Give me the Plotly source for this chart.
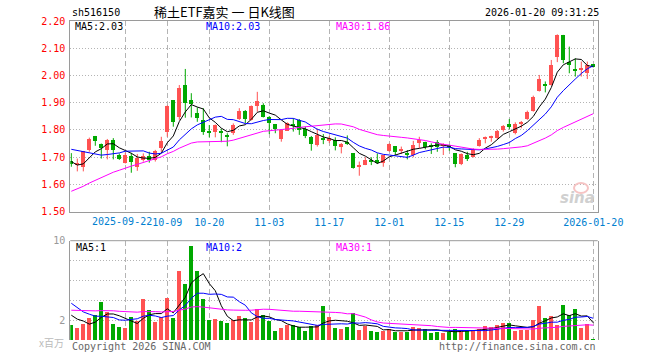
import plotly.graph_objects as go
import pandas as pd

# ---------------- data ----------------
holidays = ['2025-10-01', '2025-10-02', '2025-10-03', '2025-10-06', '2025-10-07',
            '2025-10-08', '2026-01-01', '2026-01-02']
dates = [d.strftime('%Y-%m-%d') for d in pd.bdate_range('2025-09-09', '2026-01-20')
         if d.strftime('%Y-%m-%d') not in holidays]

opens = [1.687, 1.674, 1.663, 1.727, 1.778, 1.747, 1.727, 1.763, 1.708, 1.680,
         1.705, 1.665, 1.690, 1.703, 1.690, 1.735, 1.794, 1.910, 1.849, 1.965,
         1.910, 1.861, 1.837, 1.793, 1.794, 1.791, 1.779, 1.788, 1.840, 1.870,
         1.838, 1.888, 1.892, 1.846, 1.822, 1.768, 1.797, 1.819, 1.837, 1.803,
         1.775, 1.745, 1.767, 1.760, 1.765, 1.737, 1.752, 1.714, 1.667, 1.671,
         1.688, 1.690, 1.678, 1.724, 1.741, 1.723, 1.717, 1.708, 1.751, 1.757,
         1.740, 1.757, 1.744, 1.740, 1.714, 1.675, 1.708, 1.702, 1.743, 1.769,
         1.772, 1.770, 1.800, 1.822, 1.788, 1.824, 1.840, 1.871, 1.943, 1.966,
         1.965, 2.069, 2.149, 2.049, 2.021, 2.020, 2.008, 2.041]
highs = [1.715, 1.695, 1.723, 1.772, 1.778, 1.750, 1.767, 1.770, 1.714, 1.717,
         1.716, 1.712, 1.714, 1.720, 1.727, 1.775, 1.890, 1.910, 1.965, 2.024,
         1.935, 1.883, 1.880, 1.818, 1.820, 1.805, 1.788, 1.824, 1.880, 1.873,
         1.890, 1.940, 1.898, 1.851, 1.822, 1.800, 1.828, 1.843, 1.840, 1.812,
         1.778, 1.805, 1.785, 1.778, 1.773, 1.752, 1.780, 1.714, 1.684, 1.700,
         1.700, 1.714, 1.708, 1.751, 1.741, 1.739, 1.726, 1.760, 1.775, 1.757,
         1.751, 1.763, 1.751, 1.745, 1.714, 1.714, 1.720, 1.733, 1.770, 1.776,
         1.779, 1.800, 1.818, 1.840, 1.828, 1.833, 1.871, 1.926, 2.002, 1.978,
         2.057, 2.151, 2.149, 2.106, 2.063, 2.051, 2.051, 2.042]
lows = [1.665, 1.648, 1.648, 1.720, 1.742, 1.695, 1.692, 1.692, 1.690, 1.677,
        1.643, 1.650, 1.684, 1.680, 1.684, 1.720, 1.775, 1.812, 1.837, 1.845,
        1.846, 1.830, 1.782, 1.773, 1.773, 1.755, 1.740, 1.782, 1.837, 1.825,
        1.835, 1.867, 1.846, 1.785, 1.788, 1.757, 1.797, 1.794, 1.782, 1.770,
        1.724, 1.739, 1.748, 1.752, 1.725, 1.714, 1.745, 1.658, 1.632, 1.671,
        1.671, 1.675, 1.665, 1.720, 1.708, 1.712, 1.692, 1.700, 1.733, 1.729,
        1.712, 1.720, 1.708, 1.724, 1.663, 1.671, 1.686, 1.699, 1.739, 1.751,
        1.757, 1.767, 1.794, 1.804, 1.784, 1.806, 1.837, 1.867, 1.941, 1.938,
        1.963, 2.049, 2.045, 2.008, 1.996, 1.996, 1.987, 2.030]
closes = [1.675, 1.676, 1.722, 1.767, 1.758, 1.733, 1.763, 1.727, 1.692, 1.708,
          1.682, 1.696, 1.706, 1.688, 1.724, 1.760, 1.888, 1.830, 1.953, 1.900,
          1.895, 1.843, 1.794, 1.790, 1.818, 1.789, 1.777, 1.820, 1.870, 1.840,
          1.888, 1.906, 1.849, 1.827, 1.803, 1.800, 1.825, 1.817, 1.800, 1.779,
          1.748, 1.780, 1.765, 1.772, 1.740, 1.750, 1.750, 1.662, 1.669, 1.690,
          1.686, 1.678, 1.708, 1.747, 1.720, 1.725, 1.709, 1.745, 1.763, 1.739,
          1.738, 1.739, 1.746, 1.738, 1.675, 1.712, 1.694, 1.727, 1.763, 1.771,
          1.774, 1.796, 1.815, 1.812, 1.821, 1.826, 1.867, 1.922, 1.987, 1.964,
          2.039, 2.149, 2.057, 2.040, 2.019, 2.029, 2.039, 2.033]
volumes = [1.5, 1.2, 1.6, 2.2, 2.5, 3.9, 2.9, 1.6, 1.3, 1.2,
           2.3, 1.9, 4.2, 3.1, 1.8, 2.3, 4.3, 2.2, 7.0, 5.7,
           9.5, 7.0, 4.2, 2.0, 2.1, 1.95, 1.7, 2.0, 2.4, 2.2,
           1.8, 3.2, 2.5, 1.95, 0.9, 1.2, 1.55, 1.5, 1.3, 0.9,
           1.4, 1.5, 3.5, 2.3, 1.25, 1.1, 1.3, 2.7, 1.0, 1.45,
           0.9, 0.8, 0.95, 1.15, 0.85, 0.85, 0.85, 1.3, 1.2, 1.15,
           0.7, 0.8, 0.7, 0.85, 1.1, 0.85, 0.9, 1.05, 1.1, 1.4,
           1.3, 1.5, 1.7, 1.7, 0.95, 1.0, 1.0, 2.0, 3.5, 2.2,
           2.4, 1.5, 3.6, 2.55, 3.2, 1.2, 1.6, 0.1]

# sessions before the visible window (estimated), only used for moving averages
prior_closes = [1.42, 1.43, 1.41, 1.44, 1.45, 1.44, 1.46, 1.47, 1.46, 1.48,
                1.50, 1.49, 1.51, 1.53, 1.52, 1.55, 1.57, 1.60, 1.61, 1.62,
                1.72, 1.78, 1.80, 1.79, 1.78, 1.74, 1.70, 1.66, 1.645]
prior_volumes = [2.2, 2.5, 2.0, 2.8, 3.1, 2.4, 2.6, 2.9, 2.3, 2.7,
                 3.0, 2.5, 2.2, 2.8, 3.3, 2.6, 2.4, 2.9, 2.7, 3.1,
                 6.0, 5.5, 4.5, 4.5, 4.0, 3.2, 2.55, 3.75, 1.5]

tick_dates = ['2025-09-22', '2025-10-09', '2025-10-20', '2025-11-03', '2025-11-17',
              '2025-12-01', '2025-12-15', '2025-12-29', '2026-01-20']
tick_labels = ['2025-09-22', '10-09', '10-20', '11-03', '11-17',
               '12-01', '12-15', '12-29', '2026-01-20']
price_ticks = [1.50, 1.60, 1.70, 1.80, 1.90, 2.00, 2.10, 2.20]

# ---------------- helpers ----------------
W, H = 660, 360
def px(x):
    return x / W
def py(y):
    return 1 - y / H

n = len(closes)
idx = list(range(n))
tick_idx = [dates.index(d) for d in tick_dates]

def moving_avg(prior, vals, k):
    allv = prior + vals
    p = len(prior)
    return [sum(allv[j - k + 1:j + 1]) / k for j in range(p, p + len(vals))]

ma5 = moving_avg(prior_closes, closes, 5)
ma10 = moving_avg(prior_closes, closes, 10)
ma30 = moving_avg(prior_closes, closes, 30)
vma5 = moving_avg(prior_volumes, volumes, 5)
vma10 = moving_avg(prior_volumes, volumes, 10)
vma30 = moving_avg(prior_volumes, volumes, 30)

RED = '#ff5252'
GREEN = '#00a800'
up = [c >= o for o, c in zip(opens, closes)]
colors = [RED if u else GREEN for u in up]

fig = go.Figure()

# wicks
for flag, col in ((True, RED), (False, GREEN)):
    wx, wy = [], []
    for i in idx:
        if up[i] == flag:
            wx += [i, i, None]
            wy += [lows[i], highs[i], None]
    fig.add_trace(go.Scatter(x=wx, y=wy, mode='lines', line=dict(color=col, width=1),
                             hoverinfo='skip', xaxis='x', yaxis='y'))

# bodies
fig.add_trace(go.Bar(x=idx, base=[min(o, c) for o, c in zip(opens, closes)],
                     y=[max(abs(c - o), 0.004) for o, c in zip(opens, closes)],
                     width=0.8, marker=dict(color=colors, line=dict(width=0)),
                     xaxis='x', yaxis='y'))

for vals, col in ((ma5, '#000000'), (ma10, '#0000ff'), (ma30, '#ff00ff')):
    fig.add_trace(go.Scatter(x=idx, y=vals, mode='lines', line=dict(color=col, width=1),
                             xaxis='x', yaxis='y'))

# volume
fig.add_trace(go.Bar(x=idx, y=volumes, width=0.8, marker=dict(color=colors, line=dict(width=0)),
                     xaxis='x2', yaxis='y2'))
for vals, col in ((vma5, '#000000'), (vma10, '#0000ff'), (vma30, '#ff00ff')):
    fig.add_trace(go.Scatter(x=idx, y=vals, mode='lines', line=dict(color=col, width=1),
                             xaxis='x2', yaxis='y2'))

MONO = 'DejaVu Sans Mono'
TICKBLUE = '#0080d0'
left, right = 70.3, 597.7
xr = [-1.0 / 6, (right - left) / 6 - 1.0 / 6]
dom_x = [px(left), px(right)]
GRID = '#b4b4b4'
LINE = '#9a9a9a'

# first date label is drawn separately (right-aligned so it just touches "10-09")
axis_text = [''] + tick_labels[1:]

fig.update_layout(
    width=W, height=H, margin=dict(l=0, r=0, t=0, b=0, autoexpand=False),
    paper_bgcolor='white', plot_bgcolor='white', showlegend=False,
    font=dict(family=MONO, size=10),
    xaxis=dict(domain=dom_x, range=xr, anchor='y', tickvals=tick_idx, ticktext=axis_text,
               tickfont=dict(family=MONO, size=10, color=TICKBLUE), ticks='',
               tickangle=0, automargin=False, ticklabelstandoff=1,
               showgrid=True, gridcolor=GRID, griddash='5px,3px', gridwidth=1,
               showline=True, linecolor=LINE, mirror=True, zeroline=False),
    yaxis=dict(domain=[py(211.7), py(21.0)], range=[1.5, 2.2], anchor='x',
               tickvals=price_ticks, ticktext=['%.2f' % v for v in price_ticks],
               tickfont=dict(family=MONO, size=10, color='#ff0000'), ticks='',
               automargin=False, ticklabelstandoff=2,
               showgrid=True, gridcolor=GRID, griddash='1px,2px',
               showline=True, linecolor=LINE, mirror=True, zeroline=False),
    xaxis2=dict(domain=dom_x, range=xr, anchor='y2', tickvals=tick_idx, showticklabels=False,
                ticks='', automargin=False, showgrid=True, gridcolor=GRID, griddash='5px,3px',
                showline=False, zeroline=False),
    yaxis2=dict(domain=[py(340.0), py(240.7)], range=[0, 10], anchor='x2',
                tickvals=[2, 4, 6, 8, 10], ticktext=['2', '', '', '', '10'],
                tickfont=dict(family=MONO, size=10, color='#999999'), ticks='',
                automargin=False, ticklabelstandoff=2,
                showgrid=True, gridcolor=GRID, griddash='1px,2px',
                showline=True, linecolor=LINE, mirror=True, zeroline=False),
    bargap=0,
)

fig.add_shape(type='line', xref='paper', yref='paper', x0=px(left), x1=px(right),
              y0=py(240.7), y1=py(240.7), line=dict(color=LINE, width=1))
# faint sina logo ring (watermark)
fig.add_shape(type='circle', xref='paper', yref='paper', x0=px(574), x1=px(588),
              y0=py(193), y1=py(183), line=dict(color='#f6c4c4', width=2))

def note(x, y, text, color='#000000', anchor='left', size=10, family=MONO):
    fig.add_annotation(x=px(x), y=py(y), xref='paper', yref='paper', text=text,
                       showarrow=False, xanchor=anchor, yanchor='middle',
                       font=dict(family=family, size=size, color=color))

note(154, 221.5, tick_labels[0], color=TICKBLUE, anchor='right')
note(70, 13, 'sh516150')
note(152, 12, '稀土ETF嘉实\u00a0一\u00a0日K线图', size=13, family='Noto Sans CJK SC')
note(601, 13, '2026-01-20 09:31:25', anchor='right')
note(73, 27, 'MA5:2.03')
note(204, 27, 'MA10:2.03', color='#0000ff')
note(334, 27, 'MA30:1.86', color='#ff00ff')
note(74, 247, 'MA5:1')
note(204, 247, 'MA10:2', color='#0000ff')
note(334, 247, 'MA30:1', color='#ff00ff')
note(66, 342, 'x百万', color='#bbbbbb', anchor='right', family='Noto Sans CJK SC')
note(70, 346, 'Copyright 2026 SINA.COM', color='#666666')
note(598, 346, 'http://finance.sina.com.cn', color='#666666', anchor='right')
note(597, 198, '<b><i>sina</i></b>', color='#d0d0d0', anchor='right', size=15,
     family='DejaVu Sans')

fig.write_html('out.html', config={'displayModeBar': False},
               post_script="document.body.style.margin='0';document.body.style.overflow='hidden';")
